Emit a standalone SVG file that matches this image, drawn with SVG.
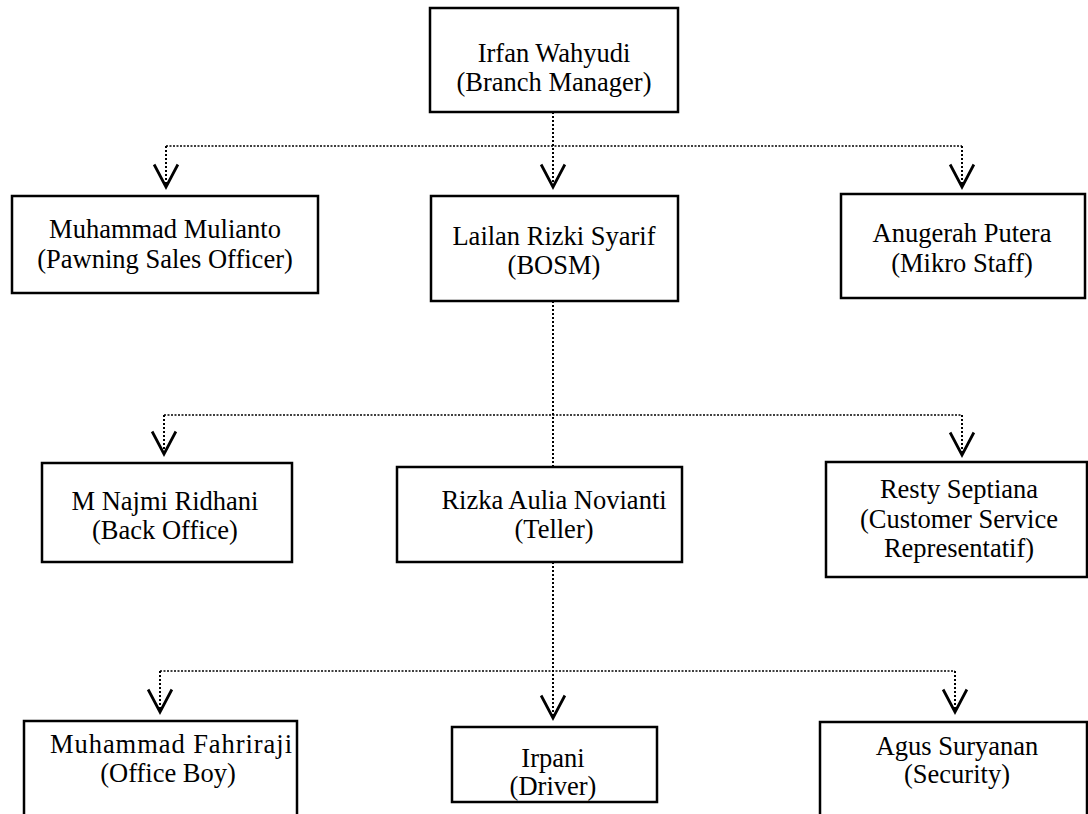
<svg xmlns="http://www.w3.org/2000/svg" width="1088" height="814" viewBox="0 0 1088 814">
<style>
.box{fill:#fff;stroke:#000;stroke-width:2.5}
.t{font-family:'Liberation Serif','DejaVu Serif',serif;font-size:26.5px;fill:#000;text-anchor:middle}
.c{fill:none;stroke:#000;stroke-width:2;stroke-dasharray:2 2}
.h{fill:none;stroke:#000;stroke-width:1.6;stroke-dasharray:2 1.5}
</style>
<defs>
<marker id="arr" markerUnits="userSpaceOnUse" markerWidth="30" markerHeight="30" refX="0" refY="0" orient="auto" overflow="visible" viewBox="-20 -12 24 24">
<path d="M-18,-9.5 L0,0 L-18,9.5" fill="none" stroke="#000" stroke-width="2.2"/>
</marker>
</defs>
<rect width="1088" height="814" fill="#fff"/>
<g id="connectors">
<path class="c" d="M553,112 V187" marker-end="url(#arr)"/>
<path class="h" d="M166,146 H962"/>
<path class="c" d="M166,146 V187" marker-end="url(#arr)"/>
<path class="c" d="M962,146 V187" marker-end="url(#arr)"/>
<path class="c" d="M553,301 V467"/>
<path class="h" d="M164,415 H962"/>
<path class="c" d="M164,415 V454" marker-end="url(#arr)"/>
<path class="c" d="M962,415 V455" marker-end="url(#arr)"/>
<path class="c" d="M553,562 V718" marker-end="url(#arr)"/>
<path class="h" d="M160,671 H955"/>
<path class="c" d="M160,671 V712" marker-end="url(#arr)"/>
<path class="c" d="M955,671 V712" marker-end="url(#arr)"/>
</g>
<g id="n-irfan">
<rect class="box" x="430" y="8" width="248" height="104"/>
<text class="t" x="554" y="62">Irfan Wahyudi</text>
<text class="t" x="554" y="91">(Branch Manager)</text>
</g>
<g id="n-mulianto">
<rect class="box" x="12" y="196" width="306" height="97"/>
<text class="t" x="165" y="238">Muhammad Mulianto</text>
<text class="t" x="165" y="268">(Pawning Sales Officer)</text>
</g>
<g id="n-lailan">
<rect class="box" x="431" y="196" width="247" height="105"/>
<text class="t" x="554" y="245">Lailan Rizki Syarif</text>
<text class="t" x="554" y="274">(BOSM)</text>
</g>
<g id="n-anugerah">
<rect class="box" x="841" y="194" width="244" height="104"/>
<text class="t" x="962" y="242">Anugerah Putera</text>
<text class="t" x="962" y="272">(Mikro Staff)</text>
</g>
<g id="n-najmi">
<rect class="box" x="42" y="463" width="250" height="99"/>
<text class="t" x="165" y="510">M Najmi Ridhani</text>
<text class="t" x="165" y="539">(Back Office)</text>
</g>
<g id="n-rizka">
<rect class="box" x="397" y="467" width="285" height="95"/>
<text class="t" x="554" y="509">Rizka Aulia Novianti</text>
<text class="t" x="554" y="538">(Teller)</text>
</g>
<g id="n-resty">
<rect class="box" x="826" y="462" width="261" height="115"/>
<text class="t" x="959" y="498">Resty Septiana</text>
<text class="t" x="959" y="528">(Customer Service</text>
<text class="t" x="959" y="557">Representatif)</text>
</g>
<g id="n-fahriraji">
<rect class="box" x="24" y="721" width="273" height="110"/>
<text class="t" x="171" y="753" textLength="242" lengthAdjust="spacing">Muhammad Fahriraji</text>
<text class="t" x="168" y="782">(Office Boy)</text>
</g>
<g id="n-irpani">
<rect class="box" x="452" y="727" width="205" height="75"/>
<text class="t" x="553" y="767">Irpani</text>
<text class="t" x="553" y="795">(Driver)</text>
</g>
<g id="n-agus">
<rect class="box" x="820" y="722" width="267" height="110"/>
<text class="t" x="957" y="755">Agus Suryanan</text>
<text class="t" x="957" y="783">(Security)</text>
</g>
</svg>
